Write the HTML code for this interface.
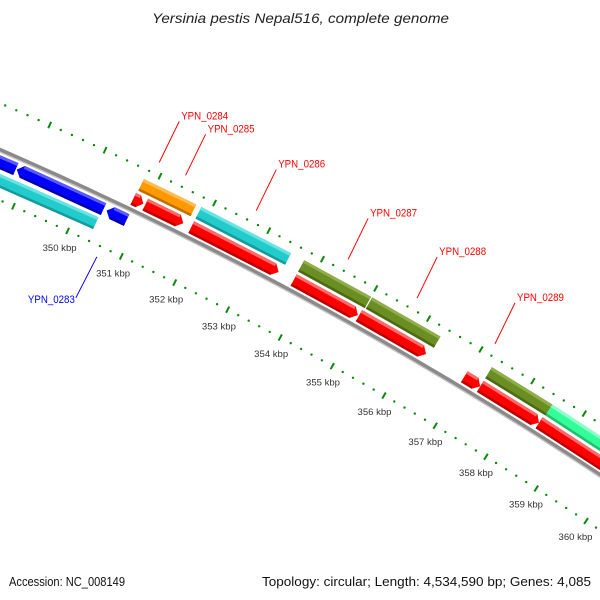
<!DOCTYPE html>
<html><head><meta charset="utf-8"><style>
html,body{margin:0;padding:0;background:#fff;}
svg{display:block;font-family:"Liberation Sans",sans-serif;}
</style></head><body>
<svg id="chart" width="600" height="600" viewBox="0 0 600 600" xmlns="http://www.w3.org/2000/svg">
<rect width="600" height="600" fill="#fff"/>
<text x="152" y="23" textLength="297" lengthAdjust="spacingAndGlyphs" font-size="14" font-style="italic" fill="#222">Yersinia pestis Nepal516, complete genome</text>
<g id="ticks"></g>
<g id="backbone"></g>
<g id="genes"></g>
<g id="labels"></g>
<text x="9" y="586" textLength="116" lengthAdjust="spacingAndGlyphs" font-size="13" fill="#111">Accession: NC_008149</text>
<text x="262" y="586" textLength="329" lengthAdjust="spacingAndGlyphs" font-size="13" fill="#111">Topology: circular; Length: 4,534,590 bp; Genes: 4,085</text>
</svg>
<script>
// data (kbp)
const geneStarts = [347.0, 348.80, 350.447, 347.0, 350.763, 350.984, 351.833, 353.743, 354.977, 356.995, 357.304, 358.45, 350.78, 351.00, 351.833, 353.743, 355.02, 357.304, 358.477];
const geneEnds   = [348.783, 350.39, 350.816, 350.374, 350.948, 351.686, 353.461, 354.957, 356.258, 357.304, 358.45, 360.5, 351.00, 351.742, 353.499, 355.00, 356.317, 358.477, 360.5];
const geneRows   = [1, 1, 1, 2, -1, -1, -1, -1, -1, -1, -1, -1, -2, -2, -2, -2, -2, -2, -2];
const geneColors = ["blue","blue","blue","cyan","red","red","red","red","red","red","red","red","orange","orange","cyan","olive","olive","olive","green"];
const geneArrows = [0, -1, -1, 0, 1, 1, 1, 1, 1, 1, 1, 1, 0, 0, 0, 0, 0, 0, 0];
const labelNames = ["YPN_0283","YPN_0284","YPN_0285","YPN_0286","YPN_0287","YPN_0288","YPN_0289"];
const labelGene  = [2, 12, 13, 14, 15, 16, 9];
const tickKbp = [346,347,348,349,350,351,352,353,354,355,356,357,358,359,360,361,362];
const tickLabels = ["","","","","350 kbp","351 kbp","352 kbp","353 kbp","354 kbp","355 kbp","356 kbp","357 kbp","358 kbp","359 kbp","360 kbp","",""];

const NS="http://www.w3.org/2000/svg";
const CX=-1586, CY=3795, R=3975, PHI0=-1.16029, U350=95, PXK=60.16;
function pt(k,v){const u=U350+(k-350)*PXK;const p=PHI0+u/R;const r=R-v;return [CX+r*Math.cos(p),CY+r*Math.sin(p)];}
function mk(tag,attrs,parent){const e=document.createElementNS(NS,tag);for(const a in attrs)e.setAttribute(a,attrs[a]);parent.appendChild(e);return e;}
const palette={red:["#ff0000","#ff6a6a","#bb0000"],blue:["#0000ff","#5a5aff","#0000a8"],cyan:["#22cccc","#6ae2e2","#169a9a"],orange:["#ff9900","#ffbb55","#c07000"],olive:["#6b8e23","#8fae4a","#4c6a14"],green:["#33ff99","#8dffc8","#1fc070"]};
const rowV={1:11,2:27,"-1":-11,"-2":-27};
const H=13, AK=0.1;

// ticks
const tg=document.getElementById('ticks');
const VOUT=-43, VIN=46;
for(let i=0;i<=80;i++){
  const k=346+i*0.2;
  if(i%5===0) continue;
  [VOUT,VIN].forEach(v=>{const p=pt(k,v);
    const d=mk('circle',{cx:p[0].toFixed(1),cy:p[1].toFixed(1),r:1.2,fill:"#0a8a0a"},tg);
    
    });
}
tickKbp.forEach((k,i)=>{
  [VOUT,VIN].forEach(v=>{const a=pt(k,v-3.5),b=pt(k,v+3.5);
    const l=mk('line',{x1:a[0],y1:a[1],x2:b[0],y2:b[1],stroke:"#0a8a0a","stroke-width":2},tg);
    
    });
  if(!tickLabels[i]) return;
  const p=pt(k,65);
  const t=mk('text',{x:(p[0]-17).toFixed(1),y:(p[1]+3).toFixed(1),textLength:34,lengthAdjust:"spacingAndGlyphs","font-size":9,fill:"#333"},tg);
  t.textContent=tickLabels[i];
  
  
});

// backbone
const bg=document.getElementById('backbone');
function arcPath(v){let s="";for(let k=345;k<=362.01;k+=0.25){const p=pt(k,v);s+=(s?"L":"M")+p[0].toFixed(1)+","+p[1].toFixed(1);}return s;}
const b1=mk('path',{d:arcPath(0),stroke:"#8a8a8a","stroke-width":4.5,fill:"none"},bg);


const b2=mk('path',{d:arcPath(1.8),stroke:"#c4c4c4","stroke-width":1.3,fill:"none"},bg);



// genes
const gg=document.getElementById('genes');
function poly(pts){return pts.map(p=>p[0].toFixed(1)+","+p[1].toFixed(1)).join(" ");}
geneStarts.forEach((k0,i)=>{
  const k1=geneEnds[i], v=rowV[geneRows[i]], c=palette[geneColors[i]], ar=geneArrows[i];
  const top=v-H/2, bot=v+H/2;
  let P;
  const a=Math.min(AK,(k1-k0)*0.5);
  if(ar===1) P=[pt(k0,top),pt(k1-a,top),pt(k1,v),pt(k1-a,bot),pt(k0,bot)];
  else if(ar===-1) P=[pt(k0,v),pt(k0+a,top),pt(k1,top),pt(k1,bot),pt(k0+a,bot)];
  else P=[pt(k0,top),pt(k1,top),pt(k1,bot),pt(k0,bot)];
  const g=mk('g',{},gg);
  
  
  mk('polygon',{points:poly(P),fill:c[0]},g);
  const s0=ar===-1?k0+a:k0, s1=ar===1?k1-a:k1;
  mk('polygon',{points:poly([pt(s0,top),pt(s1,top),pt(s1,top+3),pt(s0,top+3)]),fill:c[1]},g);
  mk('polygon',{points:poly([pt(s0,bot-2.5),pt(s1,bot-2.5),pt(s1,bot),pt(s0,bot)]),fill:c[2]},g);
});

// labels
const lg=document.getElementById('labels');
labelNames.forEach((name,j)=>{
  const gi=labelGene[j];const km=(geneStarts[gi]+geneEnds[gi])/2;
  const fwd=geneRows[gi]<0;
  const base=pt(km,fwd?-55:57);
  const end=fwd?[base[0]+20,base[1]-41]:[base[0]-21,base[1]+41];
  const col=fwd?"#ff0000":"#0000ff";
  const l=mk('line',{x1:base[0],y1:base[1],x2:end[0],y2:end[1],stroke:col,"stroke-width":1},lg);
  
  
  const t=mk('text',fwd?{x:end[0]+2,y:end[1]-2,"font-size":11,fill:col,textLength:47,lengthAdjust:"spacingAndGlyphs"}:{x:end[0]-48,y:end[1]+5,"font-size":11,fill:col,textLength:47,lengthAdjust:"spacingAndGlyphs"},lg);
  t.textContent=name;
  
  
});
</script>
</body></html>
